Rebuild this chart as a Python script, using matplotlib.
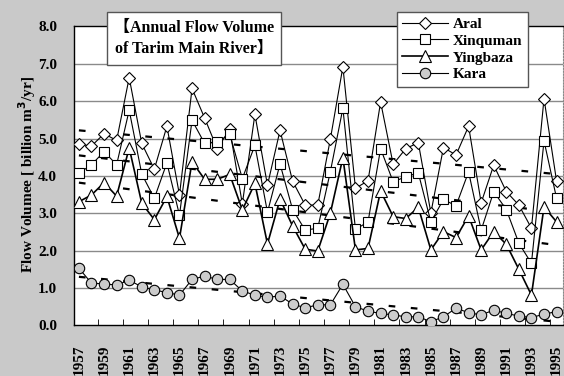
import numpy as np
import matplotlib.pyplot as plt
from matplotlib.patches import Rectangle

years = list(range(1957, 1996))

aral = [4.85, 4.80, 5.13, 4.95, 6.63, 4.87, 4.18, 5.33, 3.49, 6.34,
        5.55, 4.73, 5.25, 3.25, 5.65, 3.75, 5.22, 3.86, 3.22, 3.22,
        4.98, 6.92, 3.67, 3.87, 5.98, 4.31, 4.73, 4.89, 3.01, 4.76,
        4.56, 5.33, 3.28, 4.29, 3.58, 3.22, 2.60, 6.07, 3.86]
xinquman = [4.07, 4.30, 4.65, 4.30, 5.76, 4.05, 3.40, 4.35, 2.95, 5.49,
            4.87, 4.91, 5.11, 3.93, 4.82, 3.03, 4.32, 3.10, 2.55, 2.60,
            4.11, 5.81, 2.57, 2.77, 4.73, 3.84, 3.98, 4.08, 2.77, 3.37,
            3.20, 4.11, 2.55, 3.58, 3.10, 2.20, 1.66, 4.94, 3.40]
yingbaza = [3.31, 3.49, 3.82, 3.46, 4.75, 3.27, 2.83, 3.45, 2.33, 4.38,
            3.91, 3.91, 4.04, 3.09, 3.80, 2.18, 3.38, 2.66, 2.04, 1.99,
            3.00, 4.49, 2.02, 2.06, 3.60, 2.91, 2.86, 3.16, 2.02, 2.51,
            2.35, 2.93, 2.02, 2.51, 2.17, 1.50, 0.81, 3.17, 2.77]
kara = [1.53, 1.13, 1.11, 1.08, 1.21, 1.03, 0.95, 0.88, 0.81, 1.23,
        1.32, 1.23, 1.23, 0.92, 0.81, 0.75, 0.79, 0.57, 0.47, 0.55,
        0.55, 1.10, 0.50, 0.38, 0.32, 0.28, 0.23, 0.23, 0.10, 0.23,
        0.46, 0.34, 0.28, 0.41, 0.32, 0.25, 0.21, 0.30, 0.37]

# trend line end values (1957, 1995)
trend_start = [5.22, 4.55, 3.82, 1.30]
trend_end = [4.05, 3.03, 2.15, 0.10]

labels = ["Aral", "Xinquman", "Yingbaza", "Kara"]
serif = ["Liberation Serif", "DejaVu Serif"]

plt.rcParams["font.family"] = serif
plt.rcParams["font.weight"] = "bold"

fig = plt.figure(figsize=(5.64, 3.76), dpi=100, facecolor="#c9c9c9")
ax = fig.add_axes([0.131, 0.1346, 0.867, 0.795])
ax.set_facecolor("white")

series = [aral, xinquman, yingbaza, kara]
styles = [
    dict(marker="D", ms=6, mfc="white", lw=0.8),
    dict(marker="s", ms=6.5, mfc="white", lw=0.8),
    dict(marker="^", ms=8.5, mfc="white", lw=1.2),
    dict(marker="o", ms=7.5, mfc="#cccccc", lw=0.8),
]
for vals, st, lab in zip(series, styles, labels):
    ax.plot(years, vals, color="black", mec="black", mew=0.8, label=lab,
            zorder=3, **st)

for s, e in zip(trend_start, trend_end):
    ax.plot([years[0], years[-1]], [s, e], color="black", lw=1.6,
            dashes=(3, 7), zorder=2)

ax.set_xlim(1956.6, 1995.5)
ax.set_ylim(0, 8)
ax.set_yticks(np.arange(0, 9, 1))
ax.set_yticklabels([f"{v:.1f}" for v in range(9)], fontsize=11,
                   fontweight="bold")
ax.tick_params(axis="y", length=0, pad=12)
for v in range(1, 8):
    ax.axhline(v, color="#8a8a8a", lw=1.0, zorder=1)

ax.set_xticks(years[::2])
ax.set_xticklabels([str(y) for y in years[::2]], rotation=90, fontsize=11,
                   fontweight="bold")
ax.set_xticks(np.arange(1958.5, 1995, 2), minor=True)
ax.tick_params(axis="x", which="major", length=0, pad=14)
ax.tick_params(axis="x", which="minor", direction="in", length=4)

for side in ["left", "bottom", "top"]:
    ax.spines[side].set_color("black")
    ax.spines[side].set_linewidth(1.0)
ax.spines["right"].set_color("#888888")
ax.spines["right"].set_linestyle(":")

fig.text(0.048, 0.535, "Flow Volumee [ billion m$^\\mathbf{3}$/yr]",
         rotation=90, ha="center", va="center", fontsize=11,
         fontweight="bold")

# title box
fig.patches.append(Rectangle((0.19, 0.827), 0.308, 0.141,
                             transform=fig.transFigure, facecolor="white",
                             edgecolor="#555555", lw=1.0, zorder=5))
fig.text(0.344, 0.897, "\u3010Annual Flow Volume\nof Tarim Main River\u3011",
         ha="center", va="center", fontsize=11.5, fontweight="bold",
         linespacing=1.45, family=serif + ["Noto Sans CJK JP"], zorder=6)

leg = fig.legend(loc="upper left", bbox_to_anchor=(0.704, 0.968),
                 borderaxespad=0, fontsize=11, handlelength=3.0,
                 labelspacing=0.2, borderpad=0.35, handletextpad=0.3,
                 fancybox=False, edgecolor="#555555", framealpha=1)
leg.get_frame().set_linewidth(1.0)
for t in leg.get_texts():
    t.set_fontweight("bold")

fig.savefig("out.png", dpi=100, facecolor=fig.get_facecolor())
